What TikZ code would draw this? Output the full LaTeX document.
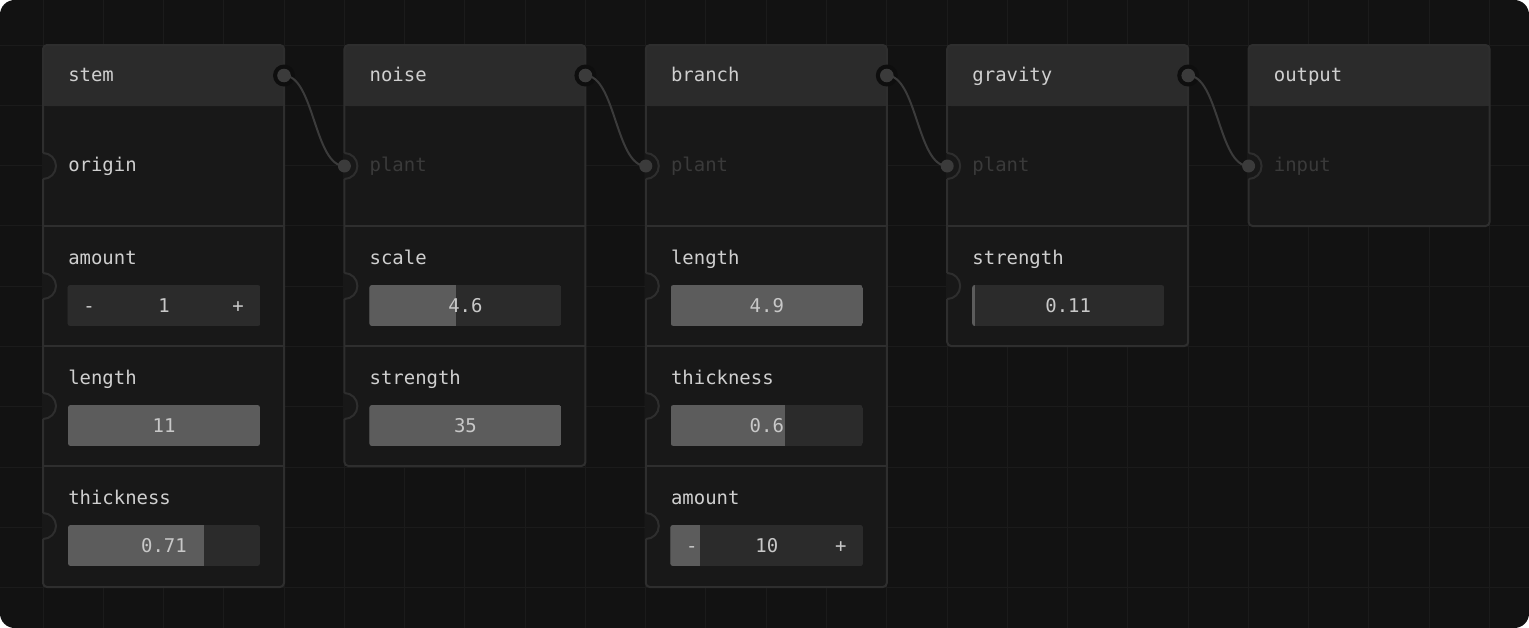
\documentclass[tikz,border=0pt]{standalone}
\usepackage{fontspec}
\setmonofont{DejaVu Sans Mono}
\definecolor{bgc}{HTML}{121212}
\definecolor{gridc}{HTML}{1B1B1B}
\definecolor{bodyc}{HTML}{181818}
\definecolor{headc}{HTML}{2B2B2B}
\definecolor{borderc}{HTML}{2E2E2E}
\definecolor{wirec}{HTML}{3B3B3B}
\definecolor{ringc}{HTML}{0E0E0E}
\definecolor{textc}{HTML}{CFCFCF}
\definecolor{dimc}{HTML}{3A3A3A}
\definecolor{widgbg}{HTML}{2B2B2B}
\definecolor{widgfill}{HTML}{5C5C5C}
\definecolor{valc}{HTML}{C8C8C8}
\tikzset{
  titletext/.style={anchor=base west, inner sep=0pt, text=textc},
  labeltext/.style={anchor=base west, inner sep=0pt, text=textc},
  dimtext/.style={anchor=base west, inner sep=0pt, text=dimc},
  valtext/.style={anchor=base, inner sep=0pt, text=valc},
  frameline/.style={draw=borderc, line width=1.5pt},
  wire/.style={draw=wirec, line width=1.5pt},
}
% #1 name, #2 x, #3 bottom, #4 title
\newcommand{\NodeBox}[4]{%
  \fill[bodyc, rounded corners=3pt] (#2,45) rectangle (#2+241,#3);
  \fill[headc, rounded corners=3pt] (#2,45) rectangle (#2+241,106);
  \fill[headc] (#2,80) rectangle (#2+241,106);
  \draw[frameline, rounded corners=3pt] (#2,45) rectangle (#2+241,#3);
  \node[titletext] (#1) at (#2+25,81.5) {#4};
}
% #1 x, #2 y
\newcommand{\PortNotch}[2]{%
  \fill[bodyc] (#1-1.2,#2-13) rectangle (#1+1.2,#2+13);
  \fill[bodyc] (#1,#2-13) arc[start angle=-90,end angle=90,radius=13] -- cycle;
  \draw[frameline] (#1,#2-13) arc[start angle=-90,end angle=90,radius=13];
}
% #1 x, #2 row top
\newcommand{\RowLine}[2]{%
  \draw[frameline] (#1,#2) -- (#1+241,#2);
}
% #1 name, #2 x, #3 rowtop, #4 label, #5 fraction, #6 value
\newcommand{\SliderRow}[6]{%
  \RowLine{#2}{#3}
  \node[labeltext] (#1L) at (#2+25,#3+38) {#4};
  \begin{scope}
    \clip[rounded corners=2pt] (#2+25,#3+59) rectangle (#2+217,#3+100);
    \fill[widgbg] (#2+25,#3+59) rectangle (#2+217,#3+100);
    \fill[widgfill] (#2+25,#3+59) rectangle (#2+25+192*#5,#3+100);
  \end{scope}
  \node[valtext] (#1V) at (#2+121,#3+86.3) {#6};
  \PortNotch{#2}{#3+60}
}
% #1 name, #2 x, #3 rowtop, #4 label, #5 value, #6 minus-fill width
\newcommand{\StepperRow}[6]{%
  \RowLine{#2}{#3}
  \node[labeltext] (#1L) at (#2+25,#3+38) {#4};
  \begin{scope}
    \clip[rounded corners=2pt] (#2+24.5,#3+59) rectangle (#2+217.5,#3+100);
    \fill[widgbg] (#2+24.5,#3+59) rectangle (#2+217.5,#3+100);
    \fill[widgfill] (#2+24.5,#3+59) rectangle (#2+24.5+#6,#3+100);
  \end{scope}
  \node[valtext] (#1M) at (#2+46,#3+86.3) {-};
  \node[valtext] (#1V) at (#2+121,#3+86.3) {#5};
  \node[valtext] (#1P) at (#2+195,#3+86.3) {+};
  \PortNotch{#2}{#3+60}
}
\begin{document}
\begin{tikzpicture}[x=0.75pt,y=-0.75pt,font=\ttfamily\fontsize{14.2}{17}\selectfont]
\useasboundingbox (0,0) rectangle (1529,628);
\fill[white] (0,0) rectangle (1529,628);
\fill[bgc, rounded corners=11pt] (0,0) rectangle (1529,628);
% grid
\foreach \i in {0,...,24} \draw[gridc, line width=0.75pt] (43+60.27*\i,0) -- (43+60.27*\i,628);
\foreach \j in {0,...,9} \draw[gridc, line width=0.75pt] (0,45+60.3*\j) -- (1529,45+60.3*\j);

% stem
\NodeBox{stem}{43}{587}{stem}
\node[labeltext] (stemOrigin) at (68,171.7) {origin};
\PortNotch{43}{166}
\StepperRow{stemAmount}{43}{226}{amount}{1}{0}
\SliderRow{stemLength}{43}{346}{length}{1}{11}
\SliderRow{stemThick}{43}{466}{thickness}{0.708}{0.71}

% noise
\NodeBox{noise}{344.4}{466}{noise}
\node[dimtext] (noisePlant) at (369.4,171.7) {plant};
\PortNotch{344.4}{166}
\SliderRow{noiseScale}{344.4}{226}{scale}{0.453}{4.6}
\SliderRow{noiseStrength}{344.4}{346}{strength}{1}{35}

% branch
\NodeBox{branch}{645.8}{587}{branch}
\node[dimtext] (branchPlant) at (670.8,171.7) {plant};
\PortNotch{645.8}{166}
\SliderRow{branchLength}{645.8}{226}{length}{1}{4.9}
\SliderRow{branchThick}{645.8}{346}{thickness}{0.597}{0.6}
\StepperRow{branchAmount}{645.8}{466}{amount}{10}{30}

% gravity
\NodeBox{gravity}{947.2}{346}{gravity}
\node[dimtext] (gravityPlant) at (972.2,171.7) {plant};
\PortNotch{947.2}{166}
\SliderRow{gravityStrength}{947.2}{226}{strength}{0.016}{0.11}

% output
\NodeBox{output}{1248.6}{226}{output}
\node[dimtext] (outputInput) at (1273.6,171.7) {input};
\PortNotch{1248.6}{166}

% ports
\coordinate (stemOut) at (284,75.5);
\coordinate (noiseOut) at (585.4,75.5);
\coordinate (branchOut) at (886.8,75.5);
\coordinate (gravityOut) at (1188.2,75.5);
\coordinate (noiseIn) at (344.4,166);
\coordinate (branchIn) at (645.8,166);
\coordinate (gravityIn) at (947.2,166);
\coordinate (outputIn) at (1248.6,166);

\foreach \p in {stemOut,noiseOut,branchOut,gravityOut} \fill[ringc] (\p) circle[radius=11];

\draw[wire] (stemOut) .. controls +(30,0) and +(-30,0) .. (noiseIn);
\draw[wire] (noiseOut) .. controls +(30,0) and +(-30,0) .. (branchIn);
\draw[wire] (branchOut) .. controls +(30,0) and +(-30,0) .. (gravityIn);
\draw[wire] (gravityOut) .. controls +(30,0) and +(-30,0) .. (outputIn);

\foreach \p in {stemOut,noiseOut,branchOut,gravityOut} \fill[wirec] (\p) circle[radius=6.8];
\foreach \p in {noiseIn,branchIn,gravityIn,outputIn} \fill[wirec] (\p) circle[radius=6.5];
\end{tikzpicture}
\end{document}
